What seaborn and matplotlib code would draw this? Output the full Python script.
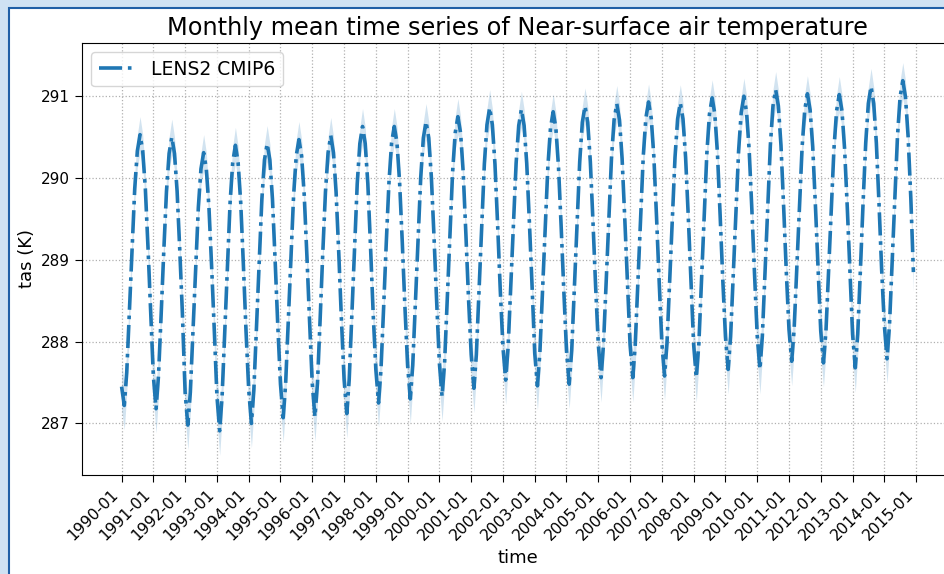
import numpy as np
import pandas as pd
import matplotlib
matplotlib.use("Agg")
from matplotlib import pyplot as plt
from matplotlib.patches import Rectangle
import matplotlib.dates as mdates
import seaborn as sns

# monthly ensemble mean tas (K), one row per year, Jan..Dec
tas_1990 = [287.45, 287.22, 287.62, 288.38, 289.14, 289.87, 290.33, 290.53, 290.33, 289.87, 289.14, 288.38]
tas_1991 = [287.58, 287.18, 287.58, 288.34, 289.11, 289.84, 290.30, 290.50, 290.30, 289.84, 289.11, 288.34]
tas_1992 = [287.38, 286.98, 287.38, 288.15, 288.91, 289.64, 290.11, 290.31, 290.11, 289.64, 288.91, 288.15]
tas_1993 = [287.33, 286.91, 287.33, 288.13, 288.93, 289.70, 290.19, 290.40, 290.19, 289.70, 288.93, 288.13]
tas_1994 = [287.41, 287.00, 287.41, 288.20, 288.98, 289.74, 290.22, 290.42, 290.22, 289.74, 288.98, 288.20]
tas_1995 = [287.48, 287.07, 287.48, 288.26, 289.04, 289.79, 290.27, 290.47, 290.27, 289.79, 289.04, 288.26]
tas_1996 = [287.49, 287.08, 287.49, 288.28, 289.08, 289.83, 290.31, 290.52, 290.31, 289.83, 289.08, 288.28]
tas_1997 = [287.54, 287.12, 287.54, 288.35, 289.16, 289.93, 290.42, 290.63, 290.42, 289.93, 289.16, 288.35]
tas_1998 = [287.66, 287.25, 287.66, 288.43, 289.21, 289.95, 290.43, 290.63, 290.43, 289.95, 289.21, 288.43]
tas_1999 = [287.71, 287.30, 287.71, 288.49, 289.27, 290.01, 290.49, 290.69, 290.49, 290.01, 289.27, 288.49]
tas_2000 = [287.74, 287.33, 287.74, 288.53, 289.31, 290.07, 290.55, 290.75, 290.55, 290.07, 289.31, 288.53]
tas_2001 = [287.84, 287.43, 287.84, 288.63, 289.42, 290.17, 290.65, 290.86, 290.65, 290.17, 289.42, 288.63]
tas_2002 = [287.93, 287.53, 287.93, 288.69, 289.45, 290.18, 290.64, 290.84, 290.64, 290.18, 289.45, 288.69]
tas_2003 = [287.86, 287.46, 287.86, 288.63, 289.40, 290.14, 290.61, 290.81, 290.61, 290.14, 289.40, 288.63]
tas_2004 = [287.89, 287.48, 287.89, 288.67, 289.45, 290.20, 290.68, 290.88, 290.68, 290.20, 289.45, 288.67]
tas_2005 = [287.96, 287.56, 287.96, 288.73, 289.50, 290.24, 290.71, 290.91, 290.71, 290.24, 289.50, 288.73]
tas_2006 = [287.96, 287.56, 287.96, 288.74, 289.52, 290.26, 290.73, 290.93, 290.73, 290.26, 289.52, 288.74]
tas_2007 = [287.98, 287.58, 287.98, 288.75, 289.52, 290.25, 290.72, 290.92, 290.72, 290.25, 289.52, 288.75]
tas_2008 = [287.97, 287.56, 287.97, 288.76, 289.54, 290.30, 290.78, 290.98, 290.78, 290.30, 289.54, 288.76]
tas_2009 = [288.06, 287.66, 288.06, 288.83, 289.60, 290.33, 290.80, 291.00, 290.80, 290.33, 289.60, 288.83]
tas_2010 = [288.07, 287.66, 288.07, 288.86, 289.64, 290.40, 290.88, 291.08, 290.88, 290.40, 289.64, 288.86]
tas_2011 = [288.15, 287.76, 288.15, 288.91, 289.66, 290.38, 290.83, 291.03, 290.83, 290.38, 289.66, 288.91]
tas_2012 = [288.13, 287.74, 288.13, 288.89, 289.64, 290.36, 290.82, 291.02, 290.82, 290.36, 289.64, 288.89]
tas_2013 = [288.09, 287.68, 288.09, 288.88, 289.68, 290.43, 290.91, 291.12, 290.91, 290.43, 289.68, 288.88]
tas_2014 = [288.20, 287.79, 288.20, 288.98, 289.76, 290.51, 290.99, 291.19, 290.99, 290.51, 289.76, 288.85]

# ensemble spread (K) by calendar month
spread_month = [0.28, 0.30, 0.26, 0.20, 0.18, 0.18, 0.20, 0.22, 0.20, 0.18, 0.20, 0.24]

tick_years = [str(y) for y in range(1990, 2016)]

tas = np.concatenate([tas_1990, tas_1991, tas_1992, tas_1993, tas_1994, tas_1995, tas_1996,
                      tas_1997, tas_1998, tas_1999, tas_2000, tas_2001, tas_2002, tas_2003,
                      tas_2004, tas_2005, tas_2006, tas_2007, tas_2008, tas_2009, tas_2010,
                      tas_2011, tas_2012, tas_2013, tas_2014])
time = pd.date_range("1990-01-01", periods=len(tas), freq="MS")
spread = np.tile(spread_month, len(tas) // 12)

df = pd.DataFrame({"time": time, "tas": tas})

sns.set_style("ticks", {"axes.edgecolor": "black", "text.color": "black",
                        "xtick.color": "black", "ytick.color": "black",
                        "axes.labelcolor": "black"})
plt.rcParams['font.family'] = ['DejaVu Sans']

fig = plt.figure(figsize=(9.45, 5.74), dpi=100)
fig.patch.set_facecolor("#cfe2f3")
fig.add_artist(Rectangle((9 / 945, -0.1), 1.2, 1.1 - 8 / 574, transform=fig.transFigure,
                         facecolor="white", edgecolor="#1f5fa6", linewidth=1.5, zorder=0))

ax = fig.add_axes([82 / 945, 1 - 475 / 574, 871 / 945, 432 / 574])
ax.fill_between(df["time"], df["tas"] - spread, df["tas"] + spread, color="C0", alpha=0.2, linewidth=0)
sns.lineplot(data=df, x="time", y="tas", ax=ax, color="C0", linestyle="-.", linewidth=2.6,
             label="LENS2 CMIP6")

ax.set_xticks(pd.to_datetime([y + "-01-01" for y in tick_years]))
ax.xaxis.set_major_formatter(mdates.DateFormatter("%Y-%m"))
plt.setp(ax.get_xticklabels(), rotation=45, ha="right")
ax.tick_params(length=5)
ax.tick_params(axis="x", labelsize=11.2)
ax.tick_params(axis="y", labelsize=11)
ax.grid(True, linestyle=":", color="#b0b0b0", linewidth=0.9)
ax.set_xlabel("time", fontsize=13)
ax.set_ylabel("tas (K)", fontsize=13)
ax.set_title("Monthly mean time series of Near-surface air temperature", fontsize=17.3)
ax.legend(loc="upper left", fontsize=13.5)

fig.savefig("out.png", dpi=100, facecolor=fig.get_facecolor())
